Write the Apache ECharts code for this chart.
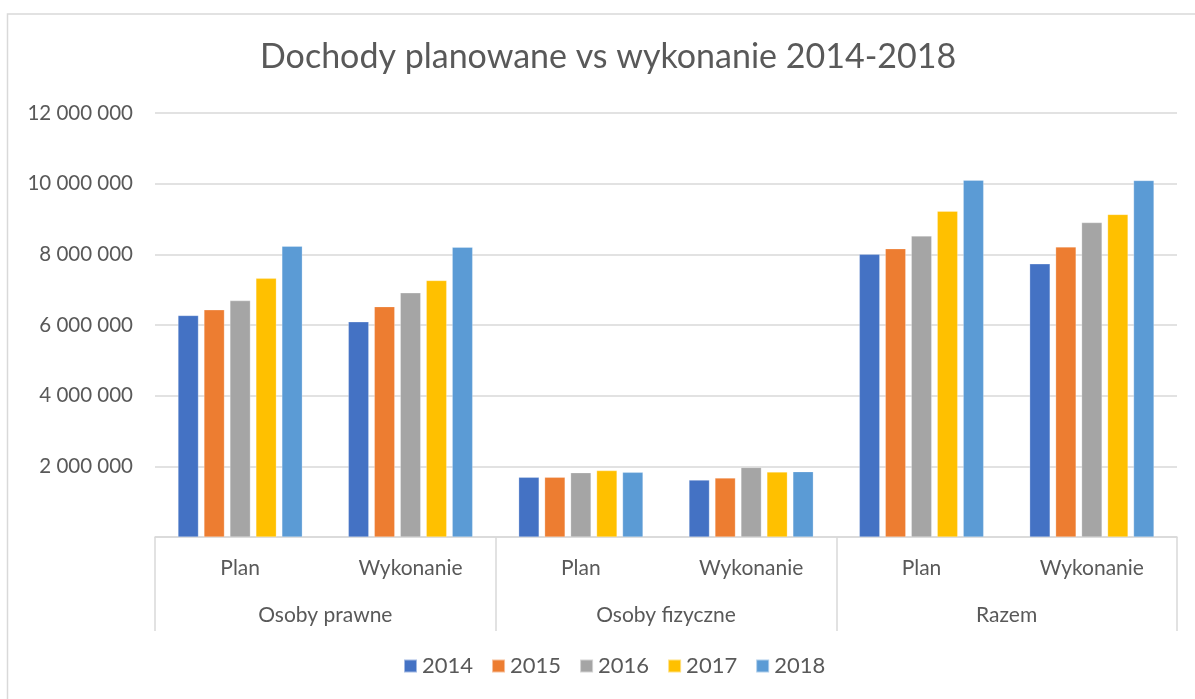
<!DOCTYPE html>
<html>
<head>
<meta charset="utf-8">
<script src="https://cdn.jsdelivr.net/npm/echarts@6/dist/echarts.min.js"></script>
<style>
  html, body { margin: 0; padding: 0; background: #fff; }
  #chart { width: 1195px; height: 699px; }
</style>
</head>
<body>
<div id="chart"></div>
<script>
// kategorie osi X
const subCategories = ["Plan", "Wykonanie", "Plan", "Wykonanie", "Plan", "Wykonanie"];
const groups = ["Osoby prawne", "Osoby fizyczne", "Razem"];
const years = ["2014", "2015", "2016", "2017", "2018"];

// wartości (zł)
const v2014 = [6270000, 6090000, 1690000, 1610000, 8000000, 7730000];
const v2015 = [6430000, 6520000, 1690000, 1670000, 8160000, 8210000];
const v2016 = [6690000, 6910000, 1820000, 1970000, 8520000, 8900000];
const v2017 = [7320000, 7260000, 1880000, 1840000, 9220000, 9130000];
const v2018 = [8230000, 8200000, 1830000, 1850000, 10100000, 10090000];
const yearValues = [v2014, v2015, v2016, v2017, v2018];

const colors = ["#4472c4", "#ed7d31", "#a5a5a5", "#ffc000", "#5b9bd5"];
const FONT = "Lato";

const fmt = (v) => String(v).replace(/\B(?=(\d{3})+(?!\d))/g, " ");

const myChart = echarts.init(document.getElementById("chart"));

myChart.setOption({
  animation: false,
  color: colors,
  textStyle: { fontFamily: FONT },
  title: {
    text: "Dochody planowane vs wykonanie 2014-2018",
    left: 255,
    top: 35,
    textStyle: { fontFamily: FONT, fontSize: 34, fontWeight: "normal", color: "#595959" },
  },
  graphic: [
    {
      type: "rect",
      shape: { x: 7.5, y: 14, width: 1200, height: 700 },
      style: { fill: null, stroke: "#d9d9d9", lineWidth: 1.5 },
      silent: true,
    },
  ],
  legend: {
    bottom: 17,
    left: 398,
    itemWidth: 13,
    itemHeight: 13,
    itemGap: 18,
    icon: "rect",
    textStyle: { fontFamily: FONT, fontSize: 22, color: "#595959" },
  },
  grid: { left: 155, right: 18, top: 113, bottom: 162 },
  xAxis: [
    {
      type: "category",
      data: subCategories,
      axisLine: { lineStyle: { color: "#d9d9d9", width: 1.5 } },
      axisTick: { show: false },
      axisLabel: { fontFamily: FONT, fontSize: 21, color: "#595959", margin: 21 },
    },
    {
      type: "category",
      position: "bottom",
      data: groups,
      axisLine: { show: false },
      axisTick: { show: true, length: 94, lineStyle: { color: "#d9d9d9", width: 1.5 } },
      axisLabel: { fontFamily: FONT, fontSize: 21, color: "#595959", margin: 68 },
    },
  ],
  yAxis: {
    type: "value",
    min: 0,
    max: 12000000,
    interval: 2000000,
    axisLine: { show: false },
    axisTick: { show: false },
    splitLine: { lineStyle: { color: "#d9d9d9", width: 1.5 } },
    axisLabel: {
      fontFamily: FONT,
      fontSize: 20.5,
      color: "#595959",
      margin: 22,
      formatter: (v) => (v === 0 ? "" : fmt(v)),
    },
  },
  series: years.map((y, i) => ({
    name: y,
    type: "bar",
    xAxisIndex: 0,
    barGap: "27%",
    barCategoryGap: "27%",
    itemStyle: { borderColor: "rgba(255,255,255,0.5)", borderWidth: 0.5 },
    data: yearValues[i],
  })),
});
</script>
</body>
</html>
